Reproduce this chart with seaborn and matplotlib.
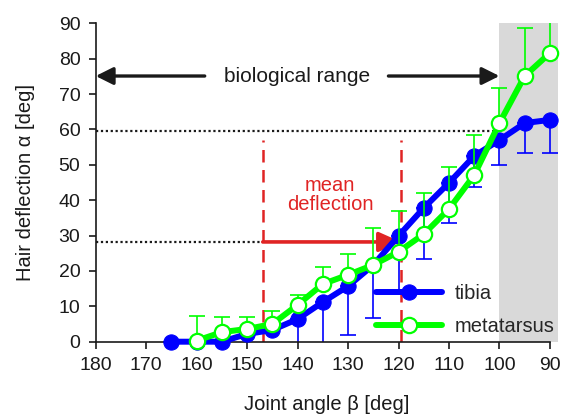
import numpy as np
import pandas as pd
import matplotlib
matplotlib.use("Agg")
import matplotlib.pyplot as plt
import seaborn as sns

# Joint angle (deg) and hair deflection (deg) per leg segment
tibia_angle = [165, 160, 155, 150, 145, 140, 135, 130, 125, 120, 115, 110, 105, 100, 95, 90]
tibia_defl = [0.0, 0.0, 0.0, 2.2, 3.3, 6.4, 11.2, 15.7, 21.7, 29.9, 37.8, 44.9, 52.5, 57.0, 61.8, 62.7]
tibia_lower = [0.0, 0.0, 0.0, 2.2, 3.3, -3.0, -2.0, 1.9, 6.8, 14.0, 23.4, 33.5, 43.6, 50.0, 53.2, 53.2]

meta_angle = [160, 155, 150, 145, 140, 135, 130, 125, 120, 115, 110, 105, 100, 95, 90]
meta_defl = [0.3, 2.7, 3.6, 5.0, 10.4, 16.3, 18.9, 21.7, 25.4, 30.4, 37.5, 47.1, 61.8, 75.1, 81.6]
meta_upper = [7.3, 7.1, 7.1, 8.8, 13.2, 21.2, 24.8, 32.2, 36.9, 41.9, 49.5, 58.4, 71.6, 88.6, 96.0]

x_ticks = [180, 170, 160, 150, 140, 130, 120, 110, 100, 90]
y_ticks = [0, 10, 20, 30, 40, 50, 60, 70, 80, 90]

range_y = 75.1
mean_defl = 28.2
max_defl = 59.6
mean_range = (146.9, 119.5)

tibia = pd.DataFrame({"angle": tibia_angle, "defl": tibia_defl, "low": tibia_lower})
meta = pd.DataFrame({"angle": meta_angle, "defl": meta_defl, "up": meta_upper})

sns.set_style("ticks")
plt.rcParams["font.family"] = ["Liberation Sans", "DejaVu Sans"]

BLUE = "#0000ff"
GREEN = "#00ff00"
RED = "#e02424"
BLACK = "#1a1a1a"

fig = plt.figure(figsize=(5.63, 4.15), dpi=100)
ax = fig.add_axes([95.7 / 563, (415 - 341.7) / 415, (558 - 95.7) / 563, (341.7 - 23.3) / 415])
ax.set_xlim(180, 88.4)
ax.set_ylim(0, 90)

# shaded region outside the biological range
ax.axvspan(100, 88.4, color="#d9d9d9", zorder=0, lw=0)

# reference lines
ax.plot([180, 101.3], [max_defl, max_defl], ls=(0, (1, 1.2)), color=BLACK, lw=1.6, zorder=1)
ax.plot([180, mean_range[0]], [mean_defl, mean_defl], ls=(0, (1, 1.2)), color=BLACK, lw=1.6, zorder=1)
for xv in mean_range:
    ax.plot([xv, xv], [0, 57], ls=(0, (5, 3)), color=RED, lw=1.8, zorder=1)

# error bars (tibia: lower, metatarsus: upper)
tib_err = [np.array(tibia_defl) - np.array(tibia_lower), np.zeros(len(tibia_defl))]
ax.errorbar(tibia_angle, tibia_defl, yerr=tib_err, fmt="none", ecolor=BLUE,
            elinewidth=1.2, capsize=6, capthick=1.2, zorder=2)
sns.lineplot(data=tibia, x="angle", y="defl", ax=ax, color=BLUE, lw=4.3, marker="o",
             markersize=11, markeredgecolor=BLUE, markerfacecolor=BLUE,
             label="tibia", clip_on=False, zorder=3)

meta_err = [np.zeros(len(meta_defl)), np.array(meta_upper) - np.array(meta_defl)]
ax.errorbar(meta_angle, meta_defl, yerr=meta_err, fmt="none", ecolor=GREEN,
            elinewidth=1.2, capsize=6, capthick=1.2, zorder=4)
sns.lineplot(data=meta, x="angle", y="defl", ax=ax, color=GREEN, lw=4.3, marker="o",
             markersize=11, markeredgecolor=GREEN, markerfacecolor="white",
             markeredgewidth=1.6, label="metatarsus", clip_on=False, zorder=5)

# biological range arrows
arrow_kw = dict(arrowstyle="-|>,head_length=0.7,head_width=0.35", lw=2.4,
                color=BLACK, mutation_scale=15, shrinkA=0, shrinkB=0)
ax.annotate("", xy=(180, range_y), xytext=(158.4, range_y), arrowprops=arrow_kw, zorder=6)
ax.annotate("", xy=(100, range_y), xytext=(122, range_y), arrowprops=arrow_kw, zorder=6)
ax.text(140.1, range_y, "biological range", ha="center", va="center", fontsize=15, color=BLACK)

# mean deflection arrow
ax.annotate("", xy=(mean_range[1], mean_defl), xytext=(mean_range[0], mean_defl),
            arrowprops=dict(arrowstyle="-|>,head_length=0.9,head_width=0.4", lw=2.6,
                            color=RED, mutation_scale=15, shrinkA=0, shrinkB=0), zorder=2)
ax.text(133.6, 41.5, "mean\ndeflection", ha="center", va="center", fontsize=14.5,
        color=RED, linespacing=1.05)

ax.set_xticks(x_ticks)
ax.set_yticks(y_ticks)
ax.tick_params(axis="both", labelsize=14, length=5, width=1.2, color=BLACK, labelcolor=BLACK, pad=6)
ax.spines["top"].set_visible(False)
ax.spines["right"].set_visible(False)
ax.spines["left"].set_linewidth(1.2)
ax.spines["bottom"].set_linewidth(1.2)
ax.spines["left"].set_color(BLACK)
ax.spines["bottom"].set_color(BLACK)
ax.spines["bottom"].set_bounds(180, 90)

ax.set_xlabel("Joint angle β [deg]", fontsize=14.5, color=BLACK, labelpad=15)
ax.set_ylabel("Hair deflection α [deg]", fontsize=14.5, color=BLACK, labelpad=17)

leg = ax.legend(loc="upper left", bbox_to_anchor=(376 / 563, 1 - 284 / 415),
                bbox_transform=fig.transFigure, frameon=False, fontsize=14.5,
                handlelength=3.3, handletextpad=0.6, labelspacing=0.68,
                borderpad=0, borderaxespad=0)

fig.savefig("out.png", dpi=100)
